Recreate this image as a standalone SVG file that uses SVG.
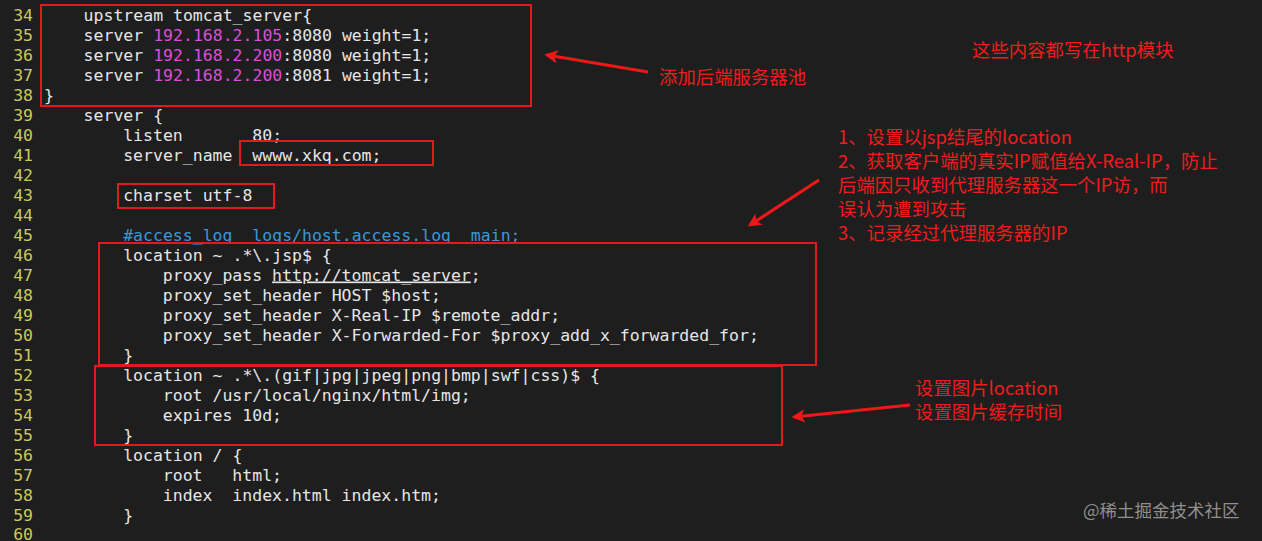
<svg xmlns="http://www.w3.org/2000/svg" width="1262" height="541" viewBox="0 0 1262 541">
<style>
.code{font-family:"DejaVu Sans Mono","Liberation Mono",monospace;font-size:16.5px;fill:#e6e6e6;white-space:pre}
.ln{font-family:"DejaVu Sans Mono","Liberation Mono",monospace;font-size:16.5px;fill:#c9c95a;text-anchor:end}
.ip{fill:#dd4ddd}
.cm{fill:#3a98d6}
.ul{text-decoration:underline}
.box{fill:none;stroke:#e01b1b;stroke-width:2}
.arr{fill:none;stroke:#ee1818;stroke-width:3.2;marker-end:url(#ah)}
.note{font-family:"Noto Sans CJK SC","Microsoft YaHei",sans-serif;font-size:18.4px;fill:#ee1c1c}
.wm{font-family:"Noto Sans CJK SC",sans-serif;font-size:17.5px;fill:#8f8f8f}
</style>
<defs>
<marker id="ah" viewBox="0 0 10 10" refX="8" refY="5" markerWidth="5.5" markerHeight="4.2" orient="auto" markerUnits="strokeWidth">
<path d="M0,0 L10,5 L0,10 L2.5,5 z" fill="#ee1818"/>
</marker>
</defs>
<rect width="1262" height="541" fill="#1e1e1e"/>
<g id="line-numbers">
<text class="ln" x="33" y="20.5">34</text>
<text class="ln" x="33" y="40.5">35</text>
<text class="ln" x="33" y="60.5">36</text>
<text class="ln" x="33" y="80.5">37</text>
<text class="ln" x="33" y="100.5">38</text>
<text class="ln" x="33" y="120.5">39</text>
<text class="ln" x="33" y="140.5">40</text>
<text class="ln" x="33" y="160.5">41</text>
<text class="ln" x="33" y="180.5">42</text>
<text class="ln" x="33" y="200.5">43</text>
<text class="ln" x="33" y="220.5">44</text>
<text class="ln" x="33" y="240.5">45</text>
<text class="ln" x="33" y="260.5">46</text>
<text class="ln" x="33" y="280.5">47</text>
<text class="ln" x="33" y="300.5">48</text>
<text class="ln" x="33" y="320.5">49</text>
<text class="ln" x="33" y="340.5">50</text>
<text class="ln" x="33" y="360.5">51</text>
<text class="ln" x="33" y="380.5">52</text>
<text class="ln" x="33" y="400.5">53</text>
<text class="ln" x="33" y="420.5">54</text>
<text class="ln" x="33" y="440.5">55</text>
<text class="ln" x="33" y="460.5">56</text>
<text class="ln" x="33" y="480.5">57</text>
<text class="ln" x="33" y="500.5">58</text>
<text class="ln" x="33" y="520.5">59</text>
<text class="ln" x="33" y="539.5">60</text>
</g>
<g id="code" xml:space="preserve">
<text class="code" x="83.6" y="20.5">upstream tomcat_server{</text>
<text class="code" x="83.6" y="40.5">server <tspan class="ip">192.168.2.105</tspan>:8080 weight=1;</text>
<text class="code" x="83.6" y="60.5">server <tspan class="ip">192.168.2.200</tspan>:8080 weight=1;</text>
<text class="code" x="83.6" y="80.5">server <tspan class="ip">192.168.2.200</tspan>:8081 weight=1;</text>
<text class="code" x="44" y="100.5">}</text>
<text class="code" x="83.6" y="120.5">server {</text>
<text class="code" x="123.2" y="140.5">listen       80;</text>
<text class="code" x="123.2" y="160.5">server_name  wwww.xkq.com;</text>
<text class="code" x="123.2" y="200.5">charset utf-8</text>
<text class="code cm" x="123.2" y="240.5">#access_log  logs/host.access.log  main;</text>
<text class="code" x="123.2" y="260.5">location ~ .*\.jsp$ {</text>
<text class="code" x="162.8" y="280.5">proxy_pass <tspan class="ul">http://tomcat_server</tspan>;</text>
<text class="code" x="162.8" y="300.5">proxy_set_header HOST $host;</text>
<text class="code" x="162.8" y="320.5">proxy_set_header X-Real-IP $remote_addr;</text>
<text class="code" x="162.8" y="340.5">proxy_set_header X-Forwarded-For $proxy_add_x_forwarded_for;</text>
<text class="code" x="123.2" y="360.5">}</text>
<text class="code" x="123.2" y="380.5">location ~ .*\.(gif|jpg|jpeg|png|bmp|swf|css)$ {</text>
<text class="code" x="162.8" y="400.5">root /usr/local/nginx/html/img;</text>
<text class="code" x="162.8" y="420.5">expires 10d;</text>
<text class="code" x="123.2" y="440.5">}</text>
<text class="code" x="123.2" y="460.5">location / {</text>
<text class="code" x="162.8" y="480.5">root   html;</text>
<text class="code" x="162.8" y="500.5">index  index.html index.htm;</text>
<text class="code" x="123.2" y="520.5">}</text>
</g>
<g id="highlight-boxes">
<rect id="box-upstream" class="box" x="41" y="5" width="490" height="101"/>
<rect id="box-server-name" class="box" x="240" y="141" width="193" height="24"/>
<rect id="box-charset" class="box" x="118" y="184" width="156" height="24"/>
<rect id="box-jsp" class="box" x="99" y="243" width="717" height="122"/>
<rect id="box-img" class="box" x="95" y="366" width="687" height="79"/>
</g>
<g id="connectors">
<path class="arr" d="M648,72 L547,55"/>
<path class="arr" d="M819,180 L750,225"/>
<path class="arr" d="M910,405 L794,417"/>
</g>
<g id="notes">
<text id="note-http" class="note" x="972" y="57">这些内容都写在http模块</text>
<text id="note-pool" class="note" x="659" y="84">添加后端服务器池</text>
<text id="note-jsp" class="note"><tspan x="838" y="144">1、设置以jsp结尾的location</tspan><tspan x="838" y="168">2、获取客户端的真实IP赋值给X-Real-IP，防止</tspan><tspan x="838" y="192">后端因只收到代理服务器这一个IP访，而</tspan><tspan x="838" y="216">误认为遭到攻击</tspan><tspan x="838" y="240">3、记录经过代理服务器的IP</tspan></text>
<text id="note-img" class="note"><tspan x="915" y="395">设置图片location</tspan><tspan x="915" y="419">设置图片缓存时间</tspan></text>
<text id="watermark" class="wm" x="1083" y="517">@稀土掘金技术社区</text>
</g>
</svg>
